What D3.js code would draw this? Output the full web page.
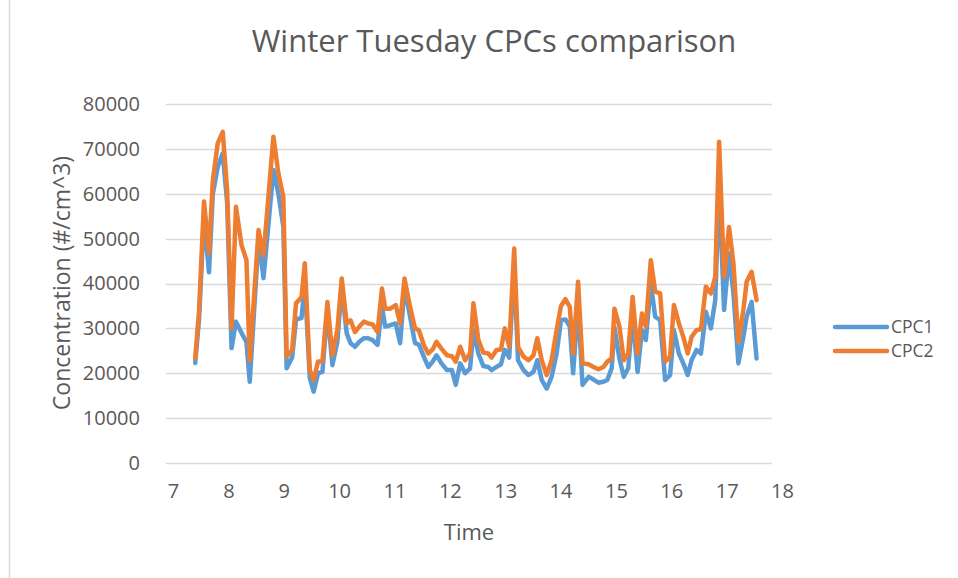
<!DOCTYPE html>
<html>
<head>
<meta charset="utf-8">
<script src="https://cdn.jsdelivr.net/npm/d3@7"></script>
<style>
  html, body { margin: 0; padding: 0; background: #fff; }
  svg { display: block; font-family: "Open Sans", sans-serif; }
</style>
</head>
<body>
<svg id="chart" width="958" height="578"></svg>
<script>
// time of day (hours)
const times = [
  7.53, 7.60, 7.69, 7.78, 7.85, 7.94, 8.03, 8.11, 8.19, 8.27, 8.37, 8.46, 8.52,
  8.68, 8.77, 8.95, 9.04, 9.13, 9.19, 9.29, 9.36, 9.46, 9.52, 9.61, 9.68, 9.76,
  9.84, 9.93, 10.02, 10.11, 10.19, 10.28, 10.35, 10.43, 10.51, 10.59, 10.67,
  10.75, 10.84, 10.92, 10.98, 11.07, 11.17, 11.25, 11.33, 11.43, 11.52, 11.59,
  11.68, 11.76, 11.84, 11.91, 12.00, 12.10, 12.19, 12.26, 12.34, 12.43, 12.52,
  12.58, 12.67, 12.76, 12.85, 12.91, 13.00, 13.08, 13.15, 13.23, 13.32, 13.39,
  13.49, 13.58, 13.67, 13.74, 13.82, 13.91, 14.00, 14.09, 14.17, 14.25, 14.33,
  14.39, 14.48, 14.56, 14.67, 14.76, 14.85, 14.94, 15.01, 15.09, 15.14, 15.23,
  15.31, 15.39, 15.47, 15.56, 15.64, 15.71, 15.80, 15.88, 15.97, 16.06, 16.15,
  16.22, 16.31, 16.39, 16.47, 16.54, 16.63, 16.71, 16.80, 16.89, 16.97, 17.04,
  17.13, 17.22, 17.30, 17.39, 17.48, 17.54, 17.63, 17.72
];

const cpc1 = [
  22300, 32000, 55000, 42500, 60000, 66000, 69000, 58000, 25600, 31500, 29000, 27000, 18100,
  50000, 41200, 65300, 60000, 52600, 21100, 23500, 32000, 32300, 40000, 19000, 15900, 20000,
  20300, 34100, 21800, 27000, 39300, 28900, 26700, 25900, 27000, 27800, 27800,
  27400, 26300, 34800, 30400, 30700, 31100, 26700, 39300, 32600, 26700, 26400,
  23700, 21400, 22600, 24000, 22200, 20700, 20700, 17400, 22200, 20000, 21100,
  29600, 24400, 21600, 21400, 20700, 21400, 22000, 25200, 23500, 44000, 22900,
  20700, 19600, 20300, 22900, 18500, 16600, 19200, 24400, 31800, 32000, 30400,
  20000, 35600, 17400, 19200, 18600, 17900, 18100, 18500, 21100, 30200, 23300,
  19200, 21100, 33000, 20300, 29600, 27400, 40000, 32600, 31800, 18500, 19600,
  29600, 24400, 22200, 19600, 22900, 25200, 24400, 33700, 30000, 36300, 62000,
  34100, 46700, 37800, 22200, 28100, 32600, 35900, 23300
];

const cpc2 = [
  23300, 34000, 58300, 46800, 63000, 71300, 73800, 60800, 30000, 57100, 48600, 45200, 22900,
  51900, 46300, 72700, 64500, 59300, 23700, 25200, 35600, 37000, 44500, 20700, 18500, 22600,
  22600, 35900, 24000, 29600, 41100, 31100, 31800, 29200, 30400, 31500, 31100,
  30900, 29200, 38900, 34400, 34400, 35200, 31100, 41100, 34800, 30000, 29600,
  26300, 24400, 25300, 27000, 25500, 24000, 23800, 22600, 25900, 22900, 24400,
  35600, 27400, 24600, 24400, 23500, 25200, 25300, 30000, 25900, 47800, 25900,
  23700, 22900, 24000, 27800, 22900, 19600, 22900, 29600, 35000, 36500, 34800,
  24400, 40400, 22200, 22000, 21400, 20900, 21400, 22600, 23300, 34400, 30400,
  22900, 24400, 37000, 24400, 33300, 30400, 45200, 38200, 37800, 22600, 23700,
  35200, 31100, 28100, 24400, 28100, 29600, 29800, 39300, 37800, 41500, 71600,
  41500, 52600, 44500, 27000, 34100, 40400, 42600, 36300
];

const seriesNames = ["CPC1", "CPC2"];
const seriesColors = ["#5b9bd5", "#ed7d31"];
const xTicks = [7, 8, 9, 10, 11, 12, 13, 14, 15, 16, 17, 18];
const yTicks = [0, 10000, 20000, 30000, 40000, 50000, 60000, 70000, 80000];

const textColor = "#595959";
const gridColor = "#d9d9d9";

const svg = d3.select("#chart");

svg.append("rect").attr("width", 958).attr("height", 578).attr("fill", "#fff");
// chart area border (only left edge in frame)
svg.append("line")
  .attr("x1", 9.5).attr("x2", 9.5).attr("y1", 0).attr("y2", 578)
  .attr("stroke", gridColor).attr("stroke-width", 1.5);

const x = d3.scaleLinear().domain([7, 18]).range([166, 772]);
const y = d3.scaleLinear().domain([0, 80000]).range([463, 104]);

// gridlines
svg.append("g")
  .selectAll("line")
  .data(yTicks)
  .join("line")
  .attr("x1", 166).attr("x2", 772)
  .attr("y1", (d) => Math.round(y(d)) + 0.5)
  .attr("y2", (d) => Math.round(y(d)) + 0.5)
  .attr("stroke", gridColor)
  .attr("stroke-width", 1.3);

// y axis labels
const yAxis = svg.append("g")
  .attr("transform", "translate(166,0)")
  .call(d3.axisLeft(y).tickValues(yTicks).tickSize(0).tickPadding(26).tickFormat(d3.format("d")));
yAxis.select(".domain").remove();
yAxis.selectAll("text")
  .attr("fill", textColor)
  .style("font-size", "20px")
  .style("font-family", "Open Sans");

// x axis labels (Excel draws them a few px right of the plot edges)
const xAxis = svg.append("g")
  .attr("transform", "translate(0,463)")
  .call(d3.axisBottom(x).tickValues(xTicks).tickSize(0).tickPadding(21).tickFormat(d3.format("d")));
xAxis.select(".domain").remove();
xAxis.selectAll("text")
  .attr("fill", textColor)
  .attr("dx", (d) => 7 + (3 * (d - 7)) / 11)
  .style("font-size", "20px")
  .style("font-family", "Open Sans");

// series lines
const rows = times.map((t, i) => ({ t, v: [cpc1[i], cpc2[i]] }));
const line = (k) => d3.line()
  .x((d) => x(d.t))
  .y((d) => y(d.v[k]));

seriesNames.forEach((name, k) => {
  svg.append("path")
    .datum(rows)
    .attr("fill", "none")
    .attr("stroke", seriesColors[k])
    .attr("stroke-width", 4.5)
    .attr("stroke-linejoin", "round")
    .attr("stroke-linecap", "round")
    .attr("d", line(k));
});

// title
svg.append("text")
  .attr("x", 494).attr("y", 52)
  .attr("text-anchor", "middle")
  .attr("fill", textColor)
  .style("font-size", "31px")
  .text("Winter Tuesday CPCs comparison");

// axis titles
svg.append("text")
  .attr("x", 469).attr("y", 540)
  .attr("text-anchor", "middle")
  .attr("fill", textColor)
  .style("font-size", "22px")
  .text("Time");

svg.append("text")
  .attr("transform", "translate(70,283) rotate(-90)")
  .attr("text-anchor", "middle")
  .attr("fill", textColor)
  .style("font-size", "23px")
  .text("Concentration (#/cm^3)");

// legend
const legend = svg.append("g")
  .selectAll("g")
  .data(seriesNames)
  .join("g")
  .attr("transform", (d, i) => `translate(835,${327 + i * 24})`);

legend.append("line")
  .attr("x1", 0).attr("x2", 52)
  .attr("stroke", (d, i) => seriesColors[i])
  .attr("stroke-width", 4.5)
  .attr("stroke-linecap", "round");

legend.append("text")
  .attr("x", 56).attr("dy", "0.35em")
  .attr("fill", textColor)
  .style("font-size", "17.5px")
  .text((d) => d);
</script>
</body>
</html>
